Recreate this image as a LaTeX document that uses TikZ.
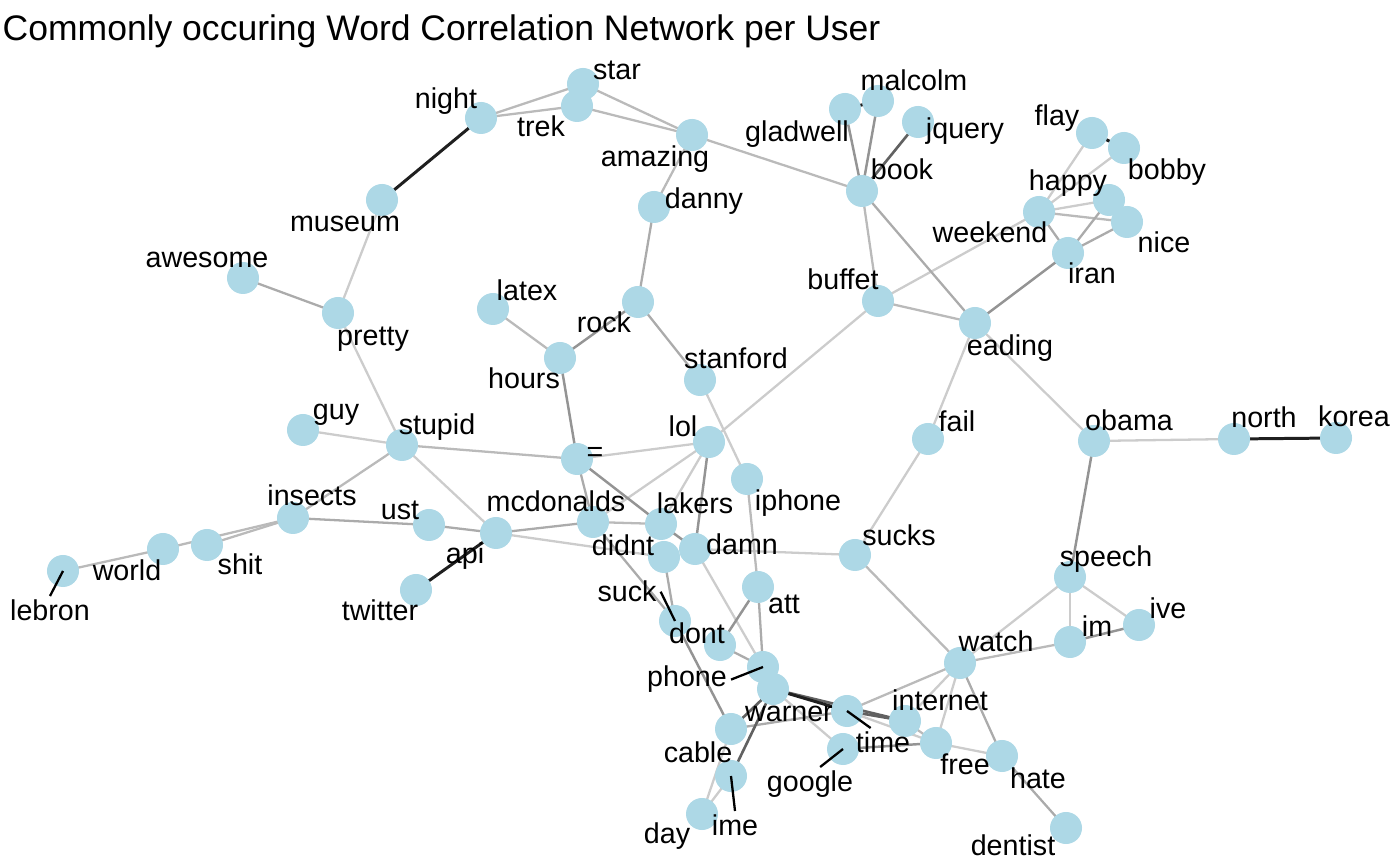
\documentclass[tikz,border=0pt]{standalone}
\usepackage{fontspec}
\setmainfont{Liberation Sans}
\usetikzlibrary{backgrounds}
\definecolor{nodeblue}{HTML}{ADD8E6}
\tikzset{
  word/.style={circle, fill=nodeblue, minimum size=0.32cm, inner sep=0pt},
  lbl/.style={font=\fontsize{8.15}{9}\selectfont, inner sep=1pt, anchor=base},
  seg/.style={black, line width=0.65pt},
  lnk1/.style={draw=black!20, line width=0.65pt},
  lnk2/.style={draw=black!27, line width=0.65pt},
  lnk3/.style={draw=black!33, line width=0.65pt},
  lnk4/.style={draw=black!42, line width=0.7pt},
  lnk5/.style={draw=black!62, line width=0.75pt},
  lnk6/.style={draw=black!88, line width=0.85pt}
}
\begin{document}
\begin{tikzpicture}[x=0.01cm, y=-0.01cm]
\useasboundingbox (0,0) rectangle (1400,865);
\node[anchor=base west, inner sep=0pt, font=\fontsize{10.1}{12}\selectfont] (title) at (2,41) {Commonly occuring Word Correlation Network per User};

% word nodes
\foreach \n/\x/\y in {night/481/118, star/583/84, trek/577/106, amazing/692/135,
  museum/382/200, awesome/243/278, pretty/338/313, danny/654/207, latex/493/309,
  rock/638/302, hours/560/358, stanford/700/380, guy/303/430, stupid/402/445,
  eq/577/459, lol/709/442, iphone/747/479, insects/293/518, ust/429/525,
  api/496/533, twitter/416/590, mcdonalds/593/522, lakers/661/524, didnt/664/557,
  damn/695/549, world/163/549, shit/207/545, lebron/63/571, suck/675/621,
  dont/720/645, att/758/587, phone/763/667, warner/773/689, time/847/711,
  google/843/749, internet/905/721, free/936/743, hate/1002/756, dentist/1066/828,
  cable/731/729, ime/731/776, day/702/814, sucks/855/555, fail/928/439,
  obama/1094/441, north/1234/439, korea/1336/438, speech/1070/577, im/1070/642,
  ive/1139/625, watch/960/663, eading/975/323, buffet/878/301, book/862/191,
  gladwell/845/109, malcolm/878/101, jquery/918/122, flay/1092/133,
  bobby/1124/148, weekend/1039/212, happy/1109/200, nice/1127/222, iran/1068/253}
  \node[word] (\n) at (\x,\y) {};

% correlations
\begin{scope}[on background layer]
\foreach \a/\b in {museum/pretty, pretty/stupid, guy/stupid, stupid/api, api/didnt,
  mcdonalds/lol, eq/lol, lol/lakers, lol/buffet, stanford/iphone, damn/sucks,
  damn/phone, warner/google, time/free, internet/watch, free/watch, free/hate,
  speech/watch, speech/im, speech/ive, obama/north, obama/eading, fail/eading,
  fail/sucks, buffet/weekend, weekend/flay, weekend/bobby, weekend/happy,
  cable/day, ime/day}
  \draw[lnk1] (\a.center) -- (\b.center);
\foreach \a/\b in {night/star, night/trek, star/amazing, trek/amazing, star/trek,
  amazing/book, amazing/danny, latex/hours, stupid/eq, stupid/insects,
  insects/shit, insects/world, world/lebron, mcdonalds/lakers, iphone/att,
  buffet/book, eading/buffet, weekend/nice, happy/nice, watch/sucks, watch/im,
  time/watch, internet/free}
  \draw[lnk2] (\a.center) -- (\b.center);
\foreach \a/\b in {danny/rock, rock/stanford, awesome/pretty, insects/ust, ust/api,
  api/mcdonalds, mcdonalds/eq, mcdonalds/suck, didnt/suck, att/phone, dont/phone,
  cable/time, watch/hate, hate/dentist, eading/book, weekend/iran, iran/happy,
  iran/nice}
  \draw[lnk3] (\a.center) -- (\b.center);
\foreach \a/\b in {rock/hours, hours/eq, eq/lakers, lakers/damn, lol/damn, att/dont,
  eading/iran, book/gladwell, book/malcolm, speech/obama, im/ive, suck/cable,
  google/free}
  \draw[lnk4] (\a.center) -- (\b.center);
\foreach \a/\b in {book/jquery, warner/cable, warner/ime, warner/internet,
  time/internet}
  \draw[lnk5] (\a.center) -- (\b.center);
\foreach \a/\b in {night/museum, north/korea, twitter/api, gladwell/malcolm,
  flay/bobby, warner/time}
  \draw[lnk6] (\a.center) -- (\b.center);
\end{scope}

% labels
\foreach \n/\t/\x/\y in {night/night/446/109, star/star/617/80, trek/trek/541/137,
  amazing/amazing/655/167, museum/museum/345/232, awesome/awesome/207/268,
  pretty/pretty/373/346, danny/danny/704/209, latex/latex/527/301,
  rock/rock/604/333, hours/hours/524/389, stanford/stanford/736/369,
  guy/guy/336/420, stupid/stupid/437/435, eq/=/595/462, lol/lol/683/437,
  iphone/iphone/798/511, insects/insects/312/506, ust/ust/400/520,
  api/api/465/564, twitter/twitter/380/621, mcdonalds/mcdonalds/556/512,
  lakers/lakers/695/514, didnt/didnt/623/556, damn/damn/742/555,
  world/world/127/581, shit/shit/240/575, lebron/lebron/50/621,
  suck/suck/627/602, dont/dont/697/644, att/att/784/614, phone/phone/687/687,
  warner/warner/789/722, time/time/883/753, google/google/810/792,
  internet/internet/940/711, free/free/965/775, hate/hate/1038/789,
  dentist/dentist/1013/856, cable/cable/698/763, ime/ime/735/836,
  day/day/667/844, sucks/sucks/899/546, fail/fail/957/432, obama/obama/1129/431,
  north/north/1264/428, korea/korea/1354/427, speech/speech/1106/567,
  im/im/1097/637, ive/ive/1168/619, watch/watch/996/652, eading/eading/1010/356,
  buffet/buffet/843/290, book/book/902/180, gladwell/gladwell/797/142,
  malcolm/malcolm/914/91, jquery/jquery/965/139, flay/flay/1057/126,
  bobby/bobby/1167/180, weekend/weekend/990/243, happy/happy/1068/191,
  nice/nice/1164/253, iran/iran/1092/284}
  \node[lbl] (\n-l) at (\x,\y) {\t};

% pointers from moved labels
\draw[seg] (lebron.center) -- (lebron-l.north);
\draw[seg] (suck.center) -- (suck-l.east);
\draw[seg] (phone.center) -- (phone-l.east);
\draw[seg] (time.center) -- (time-l.130);
\draw[seg] (google.center) -- (google-l.60);
\draw[seg] (ime.center) -- (ime-l.north);
\end{tikzpicture}
\end{document}
